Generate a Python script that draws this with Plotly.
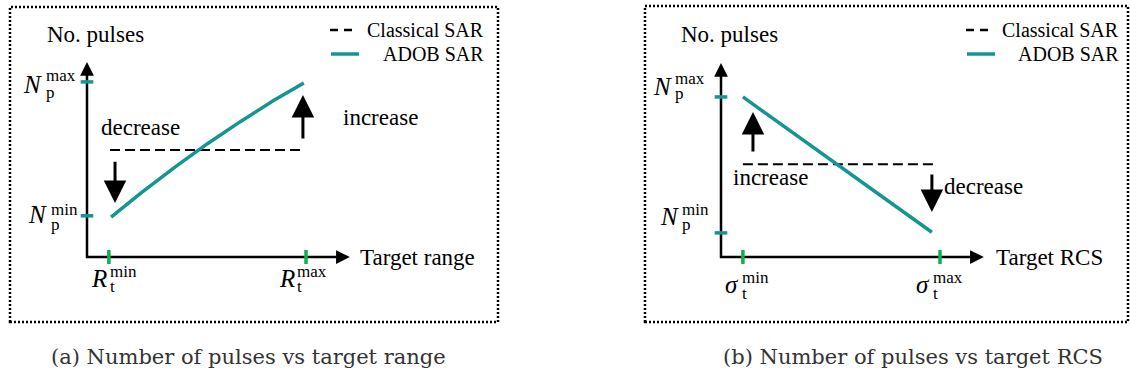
import plotly.graph_objects as go

W, H = 1130, 378
SERIF = '"Liberation Serif", "Times New Roman", serif'
TEAL = "#139591"
GREEN = "#10b050"

# ---- Panel (a): number of pulses vs target range (schematic units) ----
range_a = [1.1, 2.5, 4.0, 5.5, 7.0, 8.5, 9.9]
adob_a = [1.94, 3.14, 4.35, 5.50, 6.57, 7.58, 8.45]
classical_range_a = [1.05, 9.95]
classical_a = [5.2, 5.2]
range_ticks = [1.0, 10.0]          # R_t^min, R_t^max
pulse_ticks_a = [2.0, 8.5]         # N_p^min, N_p^max

# ---- Panel (b): number of pulses vs target RCS ----
rcs_b = [1.0, 9.63]
adob_b = [7.77, 1.2]
classical_rcs_b = [1.0, 9.9]
classical_b = [4.5, 4.5]
rcs_ticks = [1.0, 10.0]            # sigma_t^min, sigma_t^max
pulse_ticks_b = [1.17, 7.77]       # N_p^min, N_p^max

X_TIP, Y_TIP_A, Y_TIP_B = 12.0, 9.47, 9.42

fig = go.Figure()


def line(x, y, ax, color="black", width=2.5, dash=None):
    fig.add_trace(go.Scatter(
        x=x, y=y, mode="lines", xaxis=ax[0], yaxis=ax[1],
        line=dict(color=color, width=width, dash=dash),
        showlegend=False, hoverinfo="skip"))


def axis_head(ax, x, y, tx, ty):
    fig.add_annotation(x=x, y=y, ax=tx, ay=ty, xref=ax[0], yref=ax[1],
                       axref=ax[0], ayref=ax[1], text="", showarrow=True,
                       arrowhead=2, arrowsize=1.1, arrowwidth=2.5,
                       arrowcolor="black")


def big_arrow(ax, x, y0, y1):
    fig.add_annotation(x=x, y=y1, ax=x, ay=y0, xref=ax[0], yref=ax[1],
                       axref=ax[0], ayref=ax[1], text="", showarrow=True,
                       arrowhead=2, arrowsize=1.5, arrowwidth=3,
                       arrowcolor="black")


def text(ax, x, y, s, size=23, xanchor="center"):
    fig.add_annotation(x=x, y=y, xref=ax[0], yref=ax[1], text=s,
                       showarrow=False, xanchor=xanchor, yanchor="middle",
                       borderpad=0,
                       font=dict(family=SERIF, size=size, color="black"))


def math_label(ax, x, y, base, sup, sub, bdx, bdy, sdx, sup_dy, sub_dy):
    fig.add_annotation(x=x, y=y, xref=ax[0], yref=ax[1], text=f"<i>{base}</i>",
                       showarrow=False, xanchor="right", yanchor="middle",
                       xshift=bdx, yshift=bdy, borderpad=0,
                       font=dict(family=SERIF, size=25, color="black"))
    for s, dy in ((sup, sup_dy), (sub, sub_dy)):
        fig.add_annotation(x=x, y=y, xref=ax[0], yref=ax[1], text=s,
                           showarrow=False, xanchor="left", yanchor="middle",
                           xshift=sdx, yshift=dy, borderpad=0,
                           font=dict(family=SERIF, size=17, color="black"))


for ax, xs, ys, cx, cy, ticks_x, ticks_y, ytip in (
        (("x", "y"), range_a, adob_a, classical_range_a, classical_a,
         range_ticks, pulse_ticks_a, Y_TIP_A),
        (("x2", "y2"), rcs_b, adob_b, classical_rcs_b, classical_b,
         rcs_ticks, pulse_ticks_b, Y_TIP_B)):
    # axes with arrow heads
    line([0, 0, X_TIP - 0.3], [ytip - 0.3, 0, 0], ax)
    axis_head(ax, X_TIP, 0, X_TIP - 0.5, 0)
    axis_head(ax, 0, ytip, 0, ytip - 0.5)
    # series
    line(cx, cy, ax, width=2, dash="10px,5px")
    line(xs, ys, ax, color=TEAL, width=3.5)
    # coloured tick marks
    fig.add_trace(go.Scatter(
        x=[0] * len(ticks_y), y=ticks_y, mode="markers", xaxis=ax[0], yaxis=ax[1],
        marker=dict(symbol="line-ew", size=9, line=dict(color=TEAL, width=3.5)),
        showlegend=False, hoverinfo="skip"))
    fig.add_trace(go.Scatter(
        x=ticks_x, y=[0] * len(ticks_x), mode="markers", xaxis=ax[0], yaxis=ax[1],
        marker=dict(symbol="line-ns", size=10, line=dict(color=GREEN, width=3.5)),
        showlegend=False, hoverinfo="skip"))
    text(ax, 0.41, 10.78, "No. pulses")

# ---- panel (a) annotations ----
A, B = ("x", "y"), ("x2", "y2")
big_arrow(A, 1.28, 4.7, 2.62)
big_arrow(A, 9.86, 5.68, 7.86)
text(A, 2.42, 6.31, "decrease")
text(A, 13.38, 6.75, "increase")
text(A, 12.42, 0, "Target range", xanchor="left")
math_label(A, 0, pulse_ticks_a[1], "N", "max", "p", -44, -3, -42, 6, -11)
math_label(A, 0, pulse_ticks_a[0], "N", "min", "p", -39, 1, -37, 6, -9)
math_label(A, range_ticks[0], 0, "R", "min", "t", -1, -21, 0, -14, -29)
math_label(A, range_ticks[1], 0, "R", "max", "t", -10, -21, -10, -14, -29)

# ---- panel (b) annotations ----
big_arrow(B, 1.46, 5.05, 7.04)
big_arrow(B, 9.63, 4.08, 2.18)
text(B, 2.24, 3.88, "increase")
text(B, 12.0, 3.40, "decrease")
text(B, 12.51, 0, "Target RCS", xanchor="left")
math_label(B, 0, pulse_ticks_b[1], "N", "max", "p", -48, 10, -47, 18, 3)
math_label(B, 0, pulse_ticks_b[0], "N", "min", "p", -41, 16, -40, 23, 8)
math_label(B, rcs_ticks[0], 0, "σ", "min", "t", -3, -27, -2, -20, -36)
math_label(B, rcs_ticks[1], 0, "σ", "max", "t", -9, -27, -8, -20, -36)


def px(x):
    return x / W


def py(y):
    return 1 - y / H


# ---- legends and dotted frames (paper coordinates) ----
for left, right, text_right in ((330, 358, 485), (966, 994, 1120)):
    fig.add_shape(type="line", xref="paper", yref="paper",
                  x0=px(left), x1=px(right), y0=py(30), y1=py(30),
                  line=dict(color="black", width=2.5, dash="8px,6px"))
    fig.add_shape(type="line", xref="paper", yref="paper",
                  x0=px(left + 1), x1=px(right + 1), y0=py(54), y1=py(54),
                  line=dict(color=TEAL, width=3.5))
    for label, yy in (("Classical SAR", 30), ("ADOB SAR", 54)):
        fig.add_annotation(x=px(text_right), y=py(yy), xref="paper", yref="paper",
                           text=label, showarrow=False, xanchor="right",
                           yanchor="middle", borderpad=0,
                           font=dict(family=SERIF, size=20, color="black"))

for x0, x1, y0, y1 in ((10, 498, 7, 322), (645, 1128, 6, 322)):
    fig.add_shape(type="rect", xref="paper", yref="paper",
                  x0=px(x0), x1=px(x1), y0=py(y1), y1=py(y0),
                  line=dict(color="black", width=2.5, dash="2px,2px"))

for label, cx in (("(a) Number of pulses vs target range", 248),
                  ("(b) Number of pulses vs target RCS", 913)):
    fig.add_annotation(x=px(cx), y=py(357), xref="paper", yref="paper",
                       text=label, showarrow=False, xanchor="center",
                       yanchor="middle",
                       font=dict(family="DejaVu Serif", size=21, color="#333333"))

# Both panels share the same pixel scale: 21.9 px per x unit, 20.6 px per y unit
hidden = dict(visible=False, fixedrange=True)
fig.update_layout(
    width=W, height=H, margin=dict(l=0, r=0, t=0, b=0),
    paper_bgcolor="white", plot_bgcolor="white", showlegend=False,
    font=dict(family=SERIF),
    xaxis=dict(domain=[0, 0.5], range=[-87 / 21.9, 478 / 21.9], **hidden),
    yaxis=dict(domain=[0, 1], range=[-121 / 20.6, 257 / 20.6], anchor="x", **hidden),
    xaxis2=dict(domain=[0.5, 1], range=[-156 / 21.9, 409 / 21.9], anchor="y2", **hidden),
    yaxis2=dict(domain=[0, 1], range=[-121 / 20.6, 257 / 20.6], anchor="x2", **hidden),
)

fig.write_html("out.html")
